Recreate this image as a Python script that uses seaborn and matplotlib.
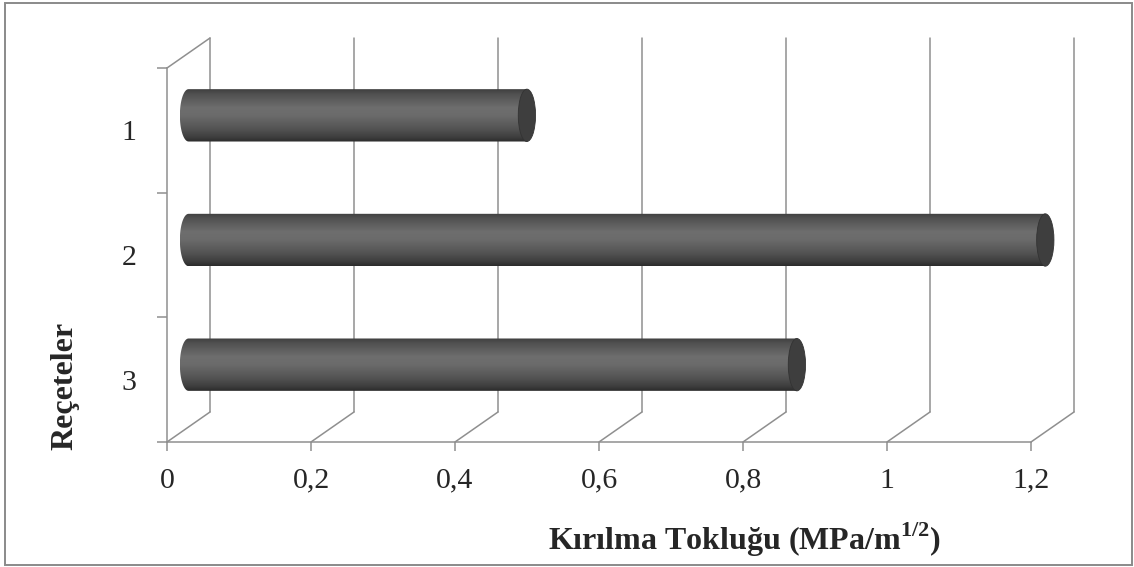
import matplotlib
matplotlib.use('Agg')
import matplotlib.pyplot as plt
import matplotlib.transforms as mtransforms
from matplotlib.patches import Ellipse, Rectangle, ConnectionPatch, PathPatch
from matplotlib.path import Path
import numpy as np
import pandas as pd
import seaborn as sns

# data
recipes = ['1', '2', '3']
toughness = [0.47, 1.19, 0.845]
x_ticks = [0, 0.2, 0.4, 0.6, 0.8, 1.0, 1.2]
x_tick_labels = ['0', '0,2', '0,4', '0,6', '0,8', '1', '1,2']

sns.set_style('white')
plt.rcParams['font.family'] = ['Liberation Serif', 'DejaVu Serif']
plt.rcParams['mathtext.fontset'] = 'custom'
plt.rcParams['mathtext.rm'] = 'Liberation Serif'
plt.rcParams['mathtext.bf'] = 'Liberation Serif:bold'

grid_col = '#8f8f8f'
W, H = 1134, 567
fig = plt.figure(figsize=(W / 100, H / 100), dpi=100)
ax = fig.add_axes([167 / W, 125 / H, 864 / W, 374 / H])

df = pd.DataFrame({'Recete': recipes, 'Tokluk': toughness})
sns.barplot(data=df, x='Tokluk', y='Recete', orient='h', color='#585858',
            width=0.42, ax=ax)
bars = list(ax.patches)
ax.set_xlim(0, 1.2)
ax.set_ylim(2.5, -0.5)

# 3D depth: back wall shifted right/up, bars sit half way
back = ax.transData + mtransforms.ScaledTranslation(0.43, 0.30, fig.dpi_scale_trans)
mid = ax.transData + mtransforms.ScaledTranslation(0.215, 0.15, fig.dpi_scale_trans)

for t in x_ticks:
    ax.plot([t, t], [2.5, -0.5], color=grid_col, lw=1.1, transform=back,
            clip_on=False, zorder=0)
    cp = ConnectionPatch(xyA=(t, 2.5), coordsA=ax.transData, xyB=(t, 2.5),
                         coordsB=back, color=grid_col, lw=1.1, clip_on=False, zorder=0)
    ax.add_artist(cp)
cp = ConnectionPatch(xyA=(0, -0.5), coordsA=ax.transData, xyB=(0, -0.5),
                     coordsB=back, color=grid_col, lw=1.1, clip_on=False, zorder=0)
ax.add_artist(cp)

# cylinder shading
pos = [0, 0.08, 0.35, 0.5, 0.75, 0.92, 1]
lev = [0.25, 0.31, 0.43, 0.42, 0.33, 0.24, 0.17]
prof = np.interp(np.linspace(0, 1, 64), pos, lev)
grad = np.repeat(prof[:, None, None], 3, axis=2)
cap_w = 0.012

for bar in bars:
    x0, w = bar.get_x(), bar.get_width()
    y0, h = bar.get_y(), bar.get_height()
    yc = y0 + h / 2
    bar.set_visible(False)
    th = np.linspace(np.pi / 2, 3 * np.pi / 2, 30)
    verts = [(x0 + cap_w * np.cos(a), yc - h / 2 * np.sin(a)) for a in th]
    verts += [(x0 + w, y0 + h), (x0 + w, y0), verts[0]]
    codes = [Path.MOVETO] + [Path.LINETO] * (len(verts) - 2) + [Path.CLOSEPOLY]
    body = PathPatch(Path(verts, codes), fc='none', ec='none', transform=mid)
    ax.add_patch(body)
    body.set_clip_on(False)
    im = ax.imshow(grad, extent=(x0 - cap_w, x0 + w, y0 + h, y0), aspect='auto',
                   interpolation='bilinear', transform=mid, zorder=2)
    im.set_clip_box(fig.bbox)
    im.set_clip_path(body)
    cap = Ellipse((x0 + w, yc), 2 * cap_w, h, fc='#3e3e3e', ec='#333333', lw=0.6,
                  transform=mid, zorder=3, clip_on=False)
    ax.add_patch(cap)

ax.set_xlim(0, 1.2)
ax.set_ylim(2.5, -0.5)

for s in ['top', 'right']:
    ax.spines[s].set_visible(False)
for s in ['left', 'bottom']:
    ax.spines[s].set_color(grid_col)
    ax.spines[s].set_linewidth(1.1)

ax.set_xticks(x_ticks, x_tick_labels)
ax.tick_params(axis='x', length=6.5, width=1.1, color=grid_col, pad=12,
               labelsize=21.5, direction='out', bottom=True)
ax.set_yticks([0, 1, 2], recipes)
ax.set_yticks([-0.5, 0.5, 1.5, 2.5], minor=True)
ax.tick_params(axis='y', which='major', length=0, pad=22, labelsize=21.5)
ax.tick_params(axis='y', which='minor', length=7, width=1.1, color=grid_col,
               direction='out', left=True)
ax.set_xlabel('')
ax.set_ylabel('')

fig.text(745 / W, 1 - 540 / H, r'Kırılma Tokluğu (MPa/m$^{\mathbf{1/2}}$)',
         ha='center', va='center', fontsize=23, fontweight='bold')
fig.text(65 / W, 1 - 386 / H, 'Reçeteler', rotation=90, ha='center', va='center',
         fontsize=23, fontweight='bold')

fig.add_artist(Rectangle((5 / W, 2 / H), 1127 / W, 562 / H, transform=fig.transFigure,
                         fill=False, ec='#8a8a8a', lw=1.4))

fig.savefig('out.png', dpi=100)
